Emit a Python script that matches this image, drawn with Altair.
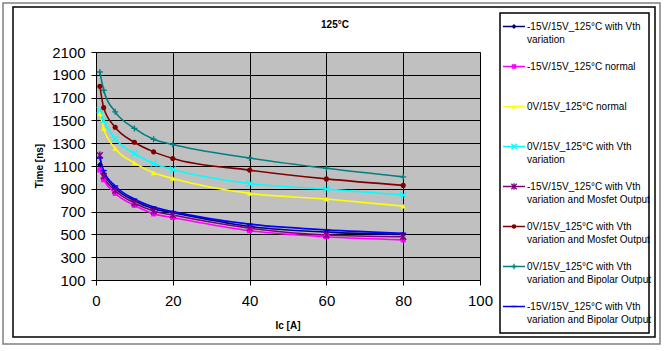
import altair as alt
import pandas as pd

# ---------------- data ----------------
ic = [1, 2, 5, 10, 15, 20, 40, 60, 80]

series_names = [
    "-15V/15V_125°C with Vth variation",
    "-15V/15V_125°C normal",
    "0V/15V_125°C normal",
    "0V/15V_125°C with Vth variation",
    "-15V/15V_125°C with Vth variation and Mosfet Output",
    "0V/15V_125°C with Vth variation and Mosfet Output",
    "0V/15V_125°C with Vth variation and Bipolar Output",
    "-15V/15V_125°C with Vth variation and Bipolar Output",
]
legend_text = [
    "-15V/15V_125°C with Vth\nvariation",
    "-15V/15V_125°C normal",
    "0V/15V_125°C normal",
    "0V/15V_125°C with Vth\nvariation",
    "-15V/15V_125°C with Vth\nvariation and Mosfet Output",
    "0V/15V_125°C with Vth\nvariation and Mosfet Output",
    "0V/15V_125°C with Vth\nvariation and Bipolar Output",
    "-15V/15V_125°C with Vth\nvariation and Bipolar Output",
]

neg_vth = [1110, 1030, 905, 795, 725, 690, 570, 520, 500]
neg_normal = [1065, 980, 860, 755, 680, 648, 532, 480, 452]
zero_normal = [1560, 1430, 1254, 1128, 1040, 991, 860, 810, 748]
zero_vth = [1590, 1500, 1340, 1210, 1122, 1070, 947, 897, 845]
neg_mosfet = [1195, 1010, 885, 775, 705, 670, 555, 495, 480]
zero_mosfet = [1800, 1612, 1440, 1308, 1224, 1166, 1064, 987, 930]
zero_bipolar = [1925, 1765, 1575, 1430, 1335, 1288, 1170, 1080, 1005]
neg_bipolar = [1170, 1060, 925, 810, 740, 700, 590, 540, 510]

all_values = [neg_vth, neg_normal, zero_normal, zero_vth,
              neg_mosfet, zero_mosfet, zero_bipolar, neg_bipolar]

x_ticks = [0, 20, 40, 60, 80, 100]
y_ticks = [100, 300, 500, 700, 900, 1100, 1300, 1500, 1700, 1900, 2100]

# ---------------- styles ----------------
colors = ["#000080", "#FF00FF", "#FFFF00", "#00FFFF",
          "#800080", "#800000", "#008080", "#0000FF"]
shapes = ["diamond", "square", "triangle-up", "M-1,-1L1,1M-1,1L1,-1",
          "M-1,-1L1,1M-1,1L1,-1M0,-1.2L0,1.2", "circle", "M-1,0L1,0M0,-1L0,1",
          "M-1,0L1,0"]
filled = [True, True, True, False, False, True, False, False]
sizes = [30, 26, 30, 36, 36, 26, 36, 36]

FONT = "Liberation Sans"
W, H = 384, 228
OX, OY = 96, 52  # plot origin on page

rows = []
for name, vals in zip(series_names, all_values):
    for x, v in zip(ic, vals):
        rows.append({"series": name, "ic": x, "time": v})
df = pd.DataFrame(rows)

one = pd.DataFrame({"a": [0]})

xenc = alt.X("ic:Q", scale=alt.Scale(domain=[0, 100], nice=False),
             axis=alt.Axis(values=x_ticks, title=None, labelFontSize=15,
                           labelPadding=8, labelFont=FONT, labelFlush=False,
                           format="d"))
yenc = alt.Y("time:Q", scale=alt.Scale(domain=[100, 2100], nice=False, zero=False),
             axis=alt.Axis(values=y_ticks, title=None, labelFontSize=15,
                           labelPadding=6, labelFont=FONT, labelFlush=False,
                           format="d"))
cenc = alt.Color("series:N", scale=alt.Scale(domain=series_names, range=colors),
                 legend=None)


def frame(x1, y1, x2, y2, color, width):
    return alt.Chart(one).mark_rect(fillOpacity=0, stroke=color, strokeWidth=width).encode(
        x=alt.value(x1 - OX), y=alt.value(y1 - OY),
        x2=alt.value(x2 - OX), y2=alt.value(y2 - OY))


layers = [
    frame(3, 3, 660, 344, "#808080", 1.5),
    frame(13, 7, 655, 337, "black", 1.5),
    frame(500, 13, 649, 333, "black", 1.5),
]

lines = alt.Chart(df).mark_line(interpolate="monotone", strokeWidth=1.6).encode(
    x=xenc, y=yenc, color=cenc, detail="series:N")
layers.append(lines)

for i, name in enumerate(series_names):
    pts = alt.Chart(df).transform_filter(alt.datum.series == name).mark_point(
        shape=shapes[i], filled=filled[i], size=sizes[i], opacity=1,
        strokeWidth=1.4 if not filled[i] else 1,
        color=colors[i]).encode(x=xenc, y=yenc)
    layers.append(pts)

# legend
for i, name in enumerate(series_names):
    yc = 26.5 + 40 * i - OY
    layers.append(alt.Chart(one).mark_rule(color=colors[i], strokeWidth=1.5).encode(
        x=alt.value(503 - OX), x2=alt.value(525 - OX), y=alt.value(yc)))
    layers.append(alt.Chart(one).mark_point(
        shape=shapes[i], filled=filled[i], size=sizes[i] * 0.8, opacity=1,
        strokeWidth=1.3, color=colors[i]).encode(
        x=alt.value(514 - OX), y=alt.value(yc)))
    layers.append(alt.Chart(one).mark_text(
        align="left", baseline="alphabetic", font=FONT, fontSize=10,
        lineBreak="\n", lineHeight=12.6, color="black").encode(
        x=alt.value(527 - OX), y=alt.value(yc + 3.6), text=alt.value(legend_text[i])))

# titles
layers.append(alt.Chart(one).mark_text(font=FONT, fontSize=10, fontWeight="bold",
                                       baseline="middle", align="center").encode(
    x=alt.value(335 - OX), y=alt.value(25 - OY), text=alt.value("125°C")))
layers.append(alt.Chart(one).mark_text(font=FONT, fontSize=10, fontWeight="bold",
                                       baseline="middle", align="center").encode(
    x=alt.value(288 - OX), y=alt.value(326 - OY), text=alt.value("Ic [A]")))
layers.append(alt.Chart(one).mark_text(font=FONT, fontSize=10, fontWeight="bold",
                                       baseline="middle", align="center", angle=270).encode(
    x=alt.value(40 - OX), y=alt.value(166 - OY), text=alt.value("Time [ns]")))

chart = alt.layer(*layers).properties(
    width=W, height=H,
    autosize=alt.AutoSizeParams(type="none"),
    padding={"left": OX, "top": OY, "right": 665 - OX - W, "bottom": 351 - OY - H},
    background="white",
).configure_view(
    fill="#c0c0c0", stroke="#808080", strokeWidth=1
).configure_axis(
    grid=True, gridColor="black", gridWidth=1, gridOpacity=1,
    domainColor="black", domainWidth=1, tickColor="black", tickSize=5,
    labelColor="black",
)

chart.save("out.html", embed_options={"renderer": "svg", "actions": False})
